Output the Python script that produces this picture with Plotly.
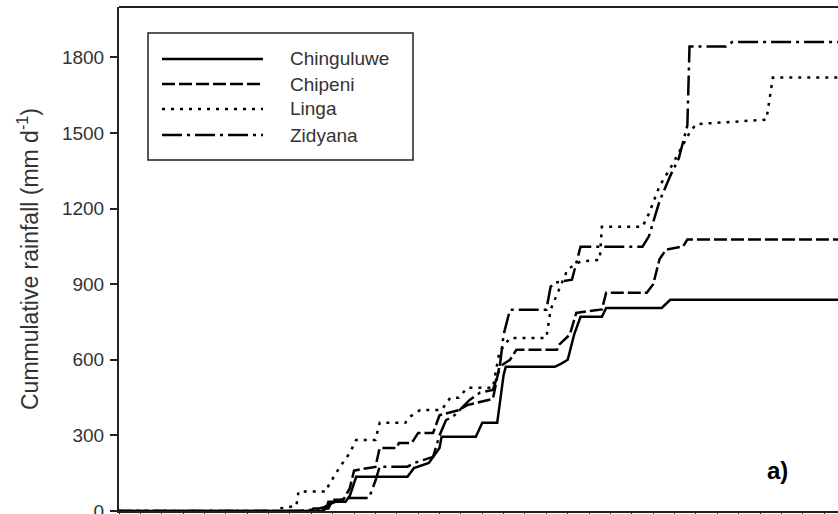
import plotly.graph_objects as go

# ---- data (x = day index, y = cumulative rainfall, mm) ----
chinguluwe_x = [0, 95, 97, 98, 106, 108, 111, 135, 138, 145, 150, 151, 167, 170, 177, 178, 180, 181,
                204, 207, 210, 213, 216, 226, 228, 254, 258, 337]
chinguluwe_y = [0, 0, 10, 37, 37, 60, 136, 136, 170, 191, 250, 295, 295, 350, 350, 420, 540, 572,
                572, 585, 600, 700, 771, 771, 806, 806, 838, 838]

chipeni_x = [0, 90, 91, 98, 100, 105, 108, 110, 116, 120, 122, 130, 131, 137, 140, 147, 150, 159, 163,
             175, 178, 183, 186, 205, 206, 211, 214, 226, 228, 247, 250, 253, 256, 264, 266, 337]
chipeni_y = [0, 0, 10, 10, 45, 45, 90, 160, 170, 175, 250, 250, 270, 270, 310, 310, 380, 400, 420,
             445, 572, 600, 640, 640, 660, 700, 786, 800, 866, 866, 900, 1000, 1037, 1050, 1077, 1077]

linga_x = [0, 73, 75, 83, 84, 97, 98, 103, 108, 111, 120, 122, 134, 136, 141, 151, 155, 159, 163,
           175, 178, 183, 200, 202, 206, 210, 216, 225, 226, 245, 248, 253, 258, 262, 267, 270,
           303, 306, 337]
linga_y = [0, 0, 10, 20, 77, 77, 100, 170, 230, 282, 282, 350, 350, 373, 401, 401, 449, 449, 489,
           489, 630, 687, 687, 799, 880, 960, 990, 997, 1128, 1128, 1180, 1290, 1360, 1420, 1500, 1535,
           1553, 1720, 1720]

zidyana_x = [0, 84, 91, 96, 98, 106, 117, 120, 122, 135, 138, 147, 150, 153, 157, 164, 169, 175,
             178, 180, 183, 200, 202, 204, 212, 216, 245, 248, 253, 258, 262, 266, 267, 284, 287, 337]
zidyana_y = [0, 0, 5, 15, 25, 52, 52, 120, 176, 176, 190, 215, 300, 360, 380, 440, 470, 480,
             560, 700, 799, 799, 890, 906, 918, 1049, 1049, 1090, 1230, 1330, 1400, 1530, 1843, 1843, 1861, 1861]

series_names = ["Chinguluwe", "Chipeni", "Linga", "Zidyana"]
series_x = [chinguluwe_x, chipeni_x, linga_x, zidyana_x]
series_y = [chinguluwe_y, chipeni_y, linga_y, zidyana_y]
dashes = ["solid", "13px,4px", "3px,6px", "20px,5px,3px,5px"]

y_ticks = [0, 300, 600, 900, 1200, 1500, 1800]
y_title = "Cummulative rainfall (mm d<sup>-1</sup>)"
panel_label = "<b>a)</b>"

W, H = 838, 514
ML, MR, MT, MB = 119, 0, 7, 3
PW, PH = W - ML - MR, H - MT - MB
FONT = "Arial, Liberation Sans, sans-serif"


def px2x(px):
    return (px - ML) / PW


def px2y(py):
    return (H - MB - py) / PH


fig = go.Figure()
for name, xs, ys, d in zip(series_names, series_x, series_y, dashes):
    fig.add_trace(go.Scatter(x=xs, y=ys, mode="lines", name=name,
                             line=dict(color="black", width=2.5, dash=d),
                             showlegend=False, hoverinfo="skip"))

# custom legend (long line samples as in the original)
shapes = [dict(type="rect", xref="paper", yref="paper",
               x0=px2x(148), x1=px2x(413), y0=px2y(160), y1=px2y(33),
               line=dict(color="#222", width=1.5), fillcolor="white", layer="above")]
annotations = []
row_y = [59, 84, 109, 135]
for name, d, ry in zip(series_names, dashes, row_y):
    shapes.append(dict(type="line", xref="paper", yref="paper",
                       x0=px2x(162), x1=px2x(263), y0=px2y(ry), y1=px2y(ry),
                       line=dict(color="black", width=2.5, dash=d), layer="above"))
    annotations.append(dict(text=name, xref="paper", yref="paper", x=px2x(288), y=px2y(ry),
                            xanchor="left", yanchor="middle", showarrow=False,
                            font=dict(family=FONT, size=19, color="#333")))

# top frame line
shapes.append(dict(type="line", xref="paper", yref="paper", x0=0, x1=1, y0=1, y1=1,
                   line=dict(color="#222", width=2)))

annotations.append(dict(text=y_title, xref="paper", yref="paper", x=px2x(28), y=px2y(259),
                        xanchor="center", yanchor="middle", textangle=-90, showarrow=False,
                        font=dict(family=FONT, size=23, color="#333")))
annotations.append(dict(text=panel_label, xref="paper", yref="paper", x=px2x(777), y=px2y(470),
                        xanchor="center", yanchor="middle", showarrow=False,
                        font=dict(family=FONT, size=24, color="black")))

fig.update_layout(
    width=W, height=H,
    margin=dict(l=ML, r=MR, t=MT, b=MB, pad=0, autoexpand=False),
    paper_bgcolor="white", plot_bgcolor="white",
    shapes=shapes, annotations=annotations,
    xaxis=dict(range=[0, 336.5], showgrid=False, zeroline=False, showline=True,
               linecolor="#222", linewidth=2, ticks="outside", ticklen=4, tickwidth=1,
               tickcolor="#222", tick0=0, dtick=10, showticklabels=False, automargin=False),
    yaxis=dict(range=[0, 2000], showgrid=False, zeroline=False, showline=True,
               linecolor="#222", linewidth=2, ticks="outside", ticklen=7, tickwidth=1.5,
               tickcolor="#222", tickvals=y_ticks, ticklabeloverflow="allow", automargin=False,
               tickfont=dict(family=FONT, size=19, color="#333"), ticklabelstandoff=2),
)

fig.write_html("out.html", config={"displayModeBar": False},
               post_script="document.body.style.margin='0';document.body.style.padding='0';")
